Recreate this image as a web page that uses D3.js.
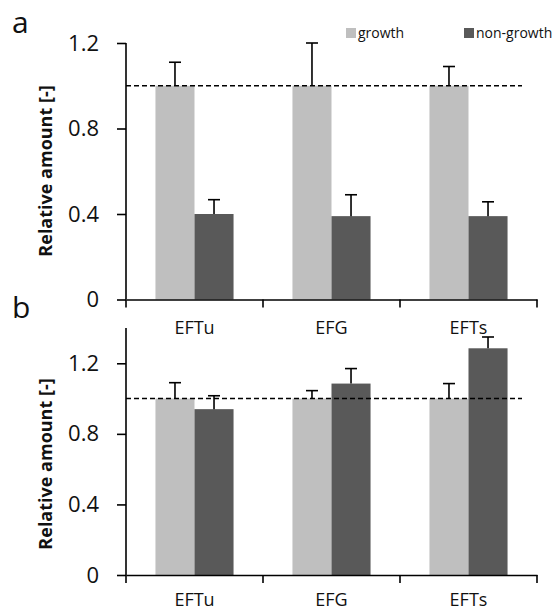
<!DOCTYPE html>
<html>
<head>
<meta charset="utf-8">
<script src="https://cdn.jsdelivr.net/npm/d3@7"></script>
<style>
  body { margin: 0; background: #fff; }
  svg { display: block; font-family: 'Open Sans', sans-serif; }
</style>
</head>
<body>
<svg id="chart" width="556" height="612"></svg>
<script>
// data
const categories = ['EFTu', 'EFG', 'EFTs'];
const seriesNames = ['growth', 'non-growth'];
const yTicks = [0, 0.4, 0.8, 1.2];

// panel a
const growthA = [1.0, 1.0, 1.0];
const growthErrA = [0.11, 0.2, 0.09];
const nonGrowthA = [0.40, 0.39, 0.39];
const nonGrowthErrA = [0.067, 0.10, 0.067];

// panel b
const growthB = [1.0, 1.0, 1.0];
const growthErrB = [0.09, 0.045, 0.085];
const nonGrowthB = [0.94, 1.085, 1.285];
const nonGrowthErrB = [0.076, 0.085, 0.064];

const colors = {'growth': '#bfbfbf', 'non-growth': '#595959'};

const svg = d3.select('#chart');

function drawPanel(opts) {
    let x = d3.scaleBand().domain(categories).range([126, 537]).padding(0),
        y = d3.scaleLinear().domain([0, opts.yMax]).range([opts.bottom, opts.top]);
    let x1 = d3.scaleBand().domain(seriesNames)
        .range([x.bandwidth() * 0.215, x.bandwidth() * 0.785]).padding(0);

    let g = svg.append('g');

    // bars
    let rows = categories.map((c, i) => ({
        cat: c,
        vals: [
            {s: 'growth', v: opts.growth[i], e: opts.growthErr[i]},
            {s: 'non-growth', v: opts.nonGrowth[i], e: opts.nonGrowthErr[i]}
        ]
    }));
    let grp = g.selectAll('.grp').data(rows).enter().append('g')
        .attr('transform', d => 'translate(' + x(d.cat) + ',0)');
    grp.selectAll('rect').data(d => d.vals).enter().append('rect')
        .attr('x', d => x1(d.s))
        .attr('y', d => y(d.v))
        .attr('width', x1.bandwidth())
        .attr('height', d => y(0) - y(d.v))
        .attr('fill', d => colors[d.s]);

    // error bars (upper only)
    let eb = grp.selectAll('.err').data(d => d.vals).enter().append('g')
        .attr('stroke', '#000').attr('stroke-width', 1.6);
    eb.append('line')
        .attr('x1', d => x1(d.s) + x1.bandwidth() / 2)
        .attr('x2', d => x1(d.s) + x1.bandwidth() / 2)
        .attr('y1', d => y(d.v))
        .attr('y2', d => y(d.v + d.e));
    eb.append('line')
        .attr('x1', d => x1(d.s) + x1.bandwidth() / 2 - 6)
        .attr('x2', d => x1(d.s) + x1.bandwidth() / 2 + 6)
        .attr('y1', d => y(d.v + d.e))
        .attr('y2', d => y(d.v + d.e));

    // reference line at 1
    g.append('line')
        .attr('x1', x.range()[0]).attr('x2', 522)
        .attr('y1', y(1)).attr('y2', y(1))
        .attr('stroke', '#000').attr('stroke-width', 1.5)
        .attr('stroke-dasharray', '5,3');

    // y axis
    let yAxis = g.append('g')
        .attr('transform', 'translate(126,0)')
        .call(d3.axisLeft(y).tickValues(yTicks).tickSize(9).tickPadding(18)
            .tickFormat(d => d === 0 ? '0' : d3.format('.1f')(d)));
    yAxis.select('.domain').attr('d', 'M0,' + y(opts.yMax) + 'V' + y(0));
    yAxis.selectAll('path, line').attr('stroke', '#000').attr('stroke-width', 1.6);
    yAxis.selectAll('text').attr('font-size', 22).attr('fill', '#111')
        .attr('font-family', 'Open Sans, sans-serif');

    // x axis
    let xAxis = g.append('g')
        .attr('transform', 'translate(0,' + y(0) + ')')
        .call(d3.axisBottom(x).tickSize(0).tickPadding(opts.labelPad));
    xAxis.select('.domain').attr('stroke', '#000').attr('stroke-width', 1.6);
    xAxis.selectAll('text').attr('font-size', 18).attr('fill', '#111')
        .attr('font-family', 'Open Sans, sans-serif');
    let bounds = [x.range()[0]].concat(categories.map(c => x(c) + x.bandwidth()));
    xAxis.selectAll('.bound').data(bounds).enter().append('line')
        .attr('x1', d => d).attr('x2', d => d)
        .attr('y1', 0).attr('y2', 8)
        .attr('stroke', '#000').attr('stroke-width', 1.6);

    // axis title
    g.append('text')
        .attr('transform', 'translate(52,' + opts.titleY + ') rotate(-90)')
        .attr('text-anchor', 'middle')
        .attr('font-size', 18).attr('font-weight', 'bold').attr('fill', '#111')
        .text('Relative amount [-]');

    // panel letter
    svg.append('text')
        .attr('x', 12).attr('y', opts.letterY)
        .attr('font-size', 30).attr('fill', '#111')
        .text(opts.letter);
}

drawPanel({
    letter: 'a', letterY: 33, top: 43, bottom: 299.5, yMax: 1.2, labelPad: 22, titleY: 171,
    growth: growthA, growthErr: growthErrA, nonGrowth: nonGrowthA, nonGrowthErr: nonGrowthErrA
});
drawPanel({
    letter: 'b', letterY: 318, top: 328, bottom: 575, yMax: 1.4, labelPad: 18, titleY: 464,
    growth: growthB, growthErr: growthErrB, nonGrowth: nonGrowthB, nonGrowthErr: nonGrowthErrB
});

// legend
let legend = svg.append('g');
let legendX = [346, 464];
seriesNames.forEach((s, i) => {
    legend.append('rect')
        .attr('x', legendX[i]).attr('y', 28)
        .attr('width', 10).attr('height', 10)
        .attr('fill', colors[s]);
    legend.append('text')
        .attr('x', legendX[i] + 12).attr('y', 37.5)
        .attr('font-size', 14).attr('fill', '#111')
        .text(s);
});
</script>
</body>
</html>
